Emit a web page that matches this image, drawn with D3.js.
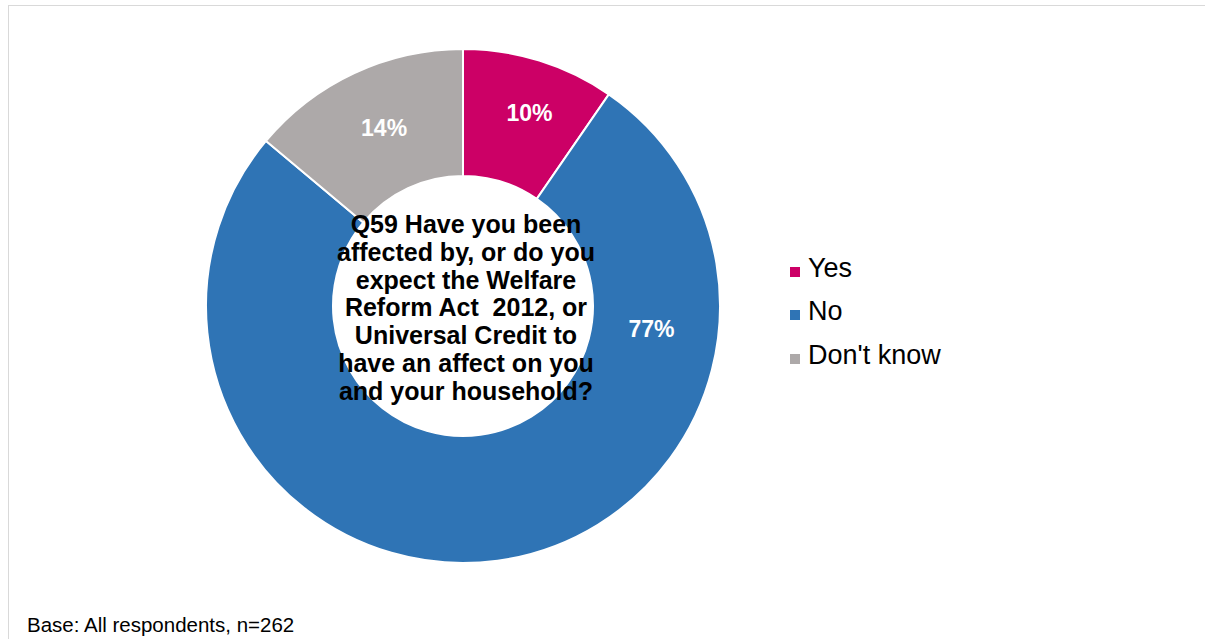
<!DOCTYPE html>
<html>
<head>
<meta charset="utf-8">
<script src="https://cdn.jsdelivr.net/npm/d3@7"></script>
<style>
  html, body { margin: 0; padding: 0; background: #fff; }
  svg { display: block; font-family: "Liberation Sans", Arial, sans-serif; }
</style>
</head>
<body>
<svg id="chart" width="1205" height="639"></svg>
<script>
// ---- data ----
const categories = ["Yes", "No", "Don't know"];
const values = [9.6, 76.5, 13.9];           // percent
const valueLabels = ["10%", "77%", "14%"];
const colors = ["#CC0066", "#2F74B5", "#ADA9A9"];
const centerLines = [
  "Q59 Have you been",
  "affected by, or do you",
  "expect the Welfare",
  "Reform Act  2012, or",
  "Universal Credit to",
  "have an affect on you",
  "and your household?"
];
const baseNote = "Base: All respondents, n=262";

// ---- layout ----
const svg = d3.select("#chart");
const cx = 463, cy = 306, outerR = 257, innerR = 130;

// frame
svg.append("rect")
  .attr("x", 8.5).attr("y", 5.5)
  .attr("width", 1210).attr("height", 660)
  .attr("fill", "none").attr("stroke", "#d9d9d9").attr("stroke-width", 1);

const pie = d3.pie().sort(null).value(d => d.v);
const data = categories.map((c, i) => ({ c, v: values[i], label: valueLabels[i], color: colors[i] }));
const arcs = pie(data);

const arc = d3.arc().innerRadius(innerR).outerRadius(outerR);
const g = svg.append("g").attr("transform", `translate(${cx},${cy})`);

g.selectAll("path.slice")
  .data(arcs)
  .enter().append("path")
  .attr("class", "slice")
  .attr("d", arc)
  .attr("fill", d => d.data.color)
  .attr("stroke", "#fff")
  .attr("stroke-width", 2);

// data labels
function labelPos(d, i) {
  let a = (d.startAngle + d.endAngle) / 2;
  let r = 204;
  if (i === 0) a += 0.03;
  if (i === 2) { r = 195; a += 0.02; }
  if (i === 1) { a = d.startAngle + (d.endAngle - d.startAngle) * 0.227; r = 190; }
  return [r * Math.sin(a), -r * Math.cos(a)];
}
g.selectAll("text.val")
  .data(arcs)
  .enter().append("text")
  .attr("class", "val")
  .attr("x", (d, i) => labelPos(d, i)[0])
  .attr("y", (d, i) => labelPos(d, i)[1])
  .attr("text-anchor", "middle")
  .attr("dominant-baseline", "central")
  .attr("fill", "#fff")
  .attr("font-weight", "bold")
  .attr("font-size", 23)
  .text(d => d.data.label);

// center question
const ct = svg.append("text")
  .attr("text-anchor", "middle")
  .attr("font-weight", "bold")
  .attr("font-size", 25)
  .attr("fill", "#000");
centerLines.forEach((line, i) => {
  ct.append("tspan")
    .attr("x", 466)
    .attr("y", 233 + i * 27.8)
    .style("white-space", "pre")
    .text(line);
});

// legend
const legend = svg.append("g");
const legY = [277, 320, 364];
data.forEach((d, i) => {
  legend.append("rect")
    .attr("x", 790).attr("y", legY[i] - 10)
    .attr("width", 10).attr("height", 10)
    .attr("fill", d.color);
  legend.append("text")
    .attr("x", 808).attr("y", legY[i])
    .attr("font-size", 27)
    .attr("fill", "#000")
    .text(d.c);
});

// base note
svg.append("text")
  .attr("x", 27).attr("y", 632)
  .attr("font-size", 20.5)
  .attr("fill", "#000")
  .text(baseNote);
</script>
</body>
</html>
